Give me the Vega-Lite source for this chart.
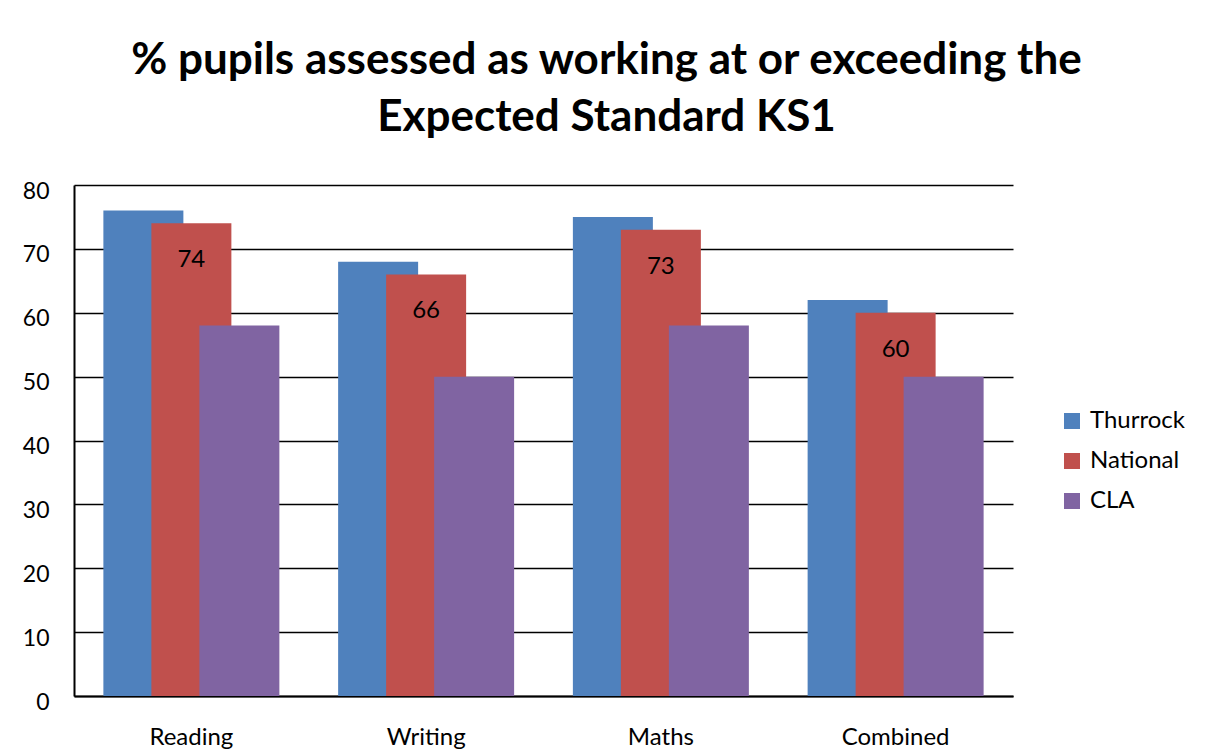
{
  "$schema": "https://vega.github.io/schema/vega-lite/v6.json",
  "width": 939,
  "height": 511,
  "autosize": {"type": "none"},
  "padding": {"left": 74, "top": 185, "right": 193, "bottom": 55},
  "background": "white",
  "config": {
    "font": "Lato",
    "view": {"stroke": null}
  },
  "title": {
    "text": ["% pupils assessed as working at or exceeding  the", "Expected Standard KS1"],
    "font": "Lato",
    "fontSize": 44,
    "fontWeight": "bold",
    "color": "#000000",
    "anchor": "middle",
    "frame": "group",
    "dx": 63,
    "offset": 5,
    "lineHeight": 57,
    "baseline": "alphabetic"
  },
  "data": {
    "values": [
      {"subject": "Reading", "group": "Thurrock", "value": 76},
      {"subject": "Writing", "group": "Thurrock", "value": 68},
      {"subject": "Maths", "group": "Thurrock", "value": 75},
      {"subject": "Combined", "group": "Thurrock", "value": 62},
      {"subject": "Reading", "group": "National", "value": 74},
      {"subject": "Writing", "group": "National", "value": 66},
      {"subject": "Maths", "group": "National", "value": 73},
      {"subject": "Combined", "group": "National", "value": 60},
      {"subject": "Reading", "group": "CLA", "value": 58},
      {"subject": "Writing", "group": "CLA", "value": 50},
      {"subject": "Maths", "group": "CLA", "value": 58},
      {"subject": "Combined", "group": "CLA", "value": 50}
    ]
  },
  "encoding": {
    "x": {
      "field": "subject",
      "type": "nominal",
      "sort": ["Reading", "Writing", "Maths", "Combined"],
      "scale": {"paddingInner": 0.3866, "paddingOuter": 0.1933},
      "axis": {
        "title": null,
        "labelAngle": 0,
        "labelFontSize": 24,
        "labelColor": "#000000",
        "labelPadding": 29,
        "labelBaseline": "top",
        "ticks": false,
        "domainColor": "#000000",
        "domainWidth": 2
      }
    },
    "xOffset": {
      "field": "group",
      "type": "nominal",
      "scale": {"domain": ["Thurrock", "National", "CLA"], "paddingInner": 0, "paddingOuter": 0}
    },
    "y": {
      "field": "value",
      "type": "quantitative",
      "scale": {"domain": [0, 80]},
      "axis": {
        "title": null,
        "values": [0, 10, 20, 30, 40, 50, 60, 70, 80],
        "labelFontSize": 23,
        "labelColor": "#000000",
        "labelPadding": 25,
        "labelOffset": 6,
        "ticks": false,
        "domainColor": "#000000",
        "domainWidth": 2,
        "grid": true,
        "gridColor": "#000000",
        "gridWidth": 1.5
      }
    }
  },
  "layer": [
    {
      "mark": {"type": "bar", "width": 80},
      "encoding": {
        "color": {
          "field": "group",
          "type": "nominal",
          "scale": {"domain": ["Thurrock", "National", "CLA"], "range": ["#4F81BD", "#C0504D", "#8064A2"]},
          "legend": {
            "title": null,
            "orient": "none",
            "legendX": 986,
            "legendY": 224,
            "symbolType": "square",
            "symbolSize": 256,
            "symbolStrokeWidth": 0,
            "labelFontSize": 24,
            "labelColor": "#000000",
            "labelOffset": 6,
            "rowPadding": 16
          }
        }
      }
    },
    {
      "transform": [{"filter": "datum.group === 'National'"}],
      "mark": {"type": "text", "fontSize": 24, "color": "#000000", "baseline": "middle", "dy": 37},
      "encoding": {
        "text": {"field": "value", "type": "quantitative"}
      }
    }
  ]
}
